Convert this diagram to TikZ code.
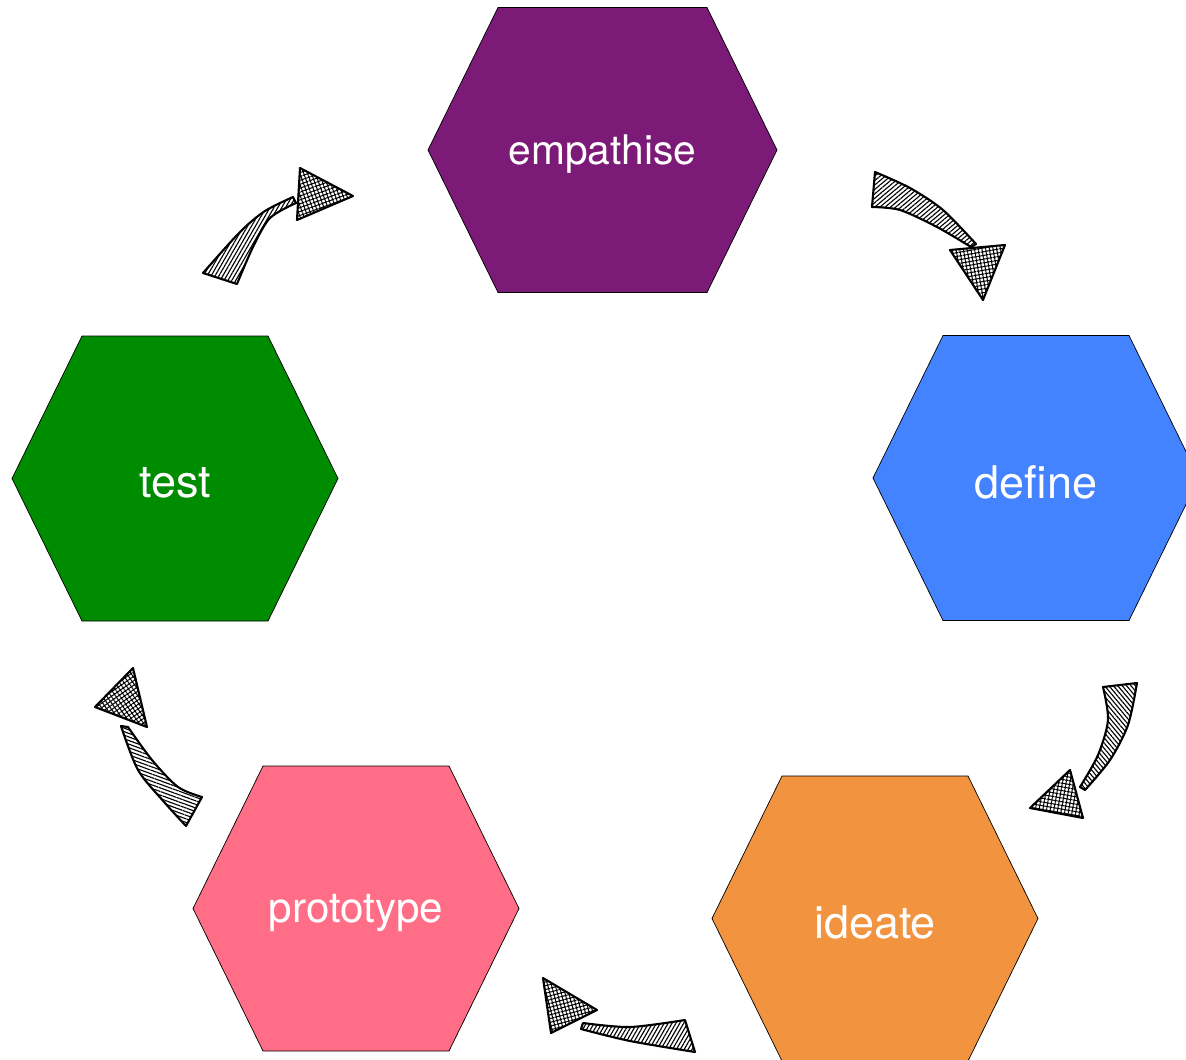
\documentclass[tikz,border=0pt]{standalone}
\usepackage{fontspec}
\setmainfont{TeX Gyre Heros}
\usetikzlibrary{patterns.meta}

\definecolor{empcol}{RGB}{123,26,119}
\definecolor{defcol}{RGB}{68,131,255}
\definecolor{idecol}{RGB}{242,147,64}
\definecolor{procol}{RGB}{255,110,134}
\definecolor{tstcol}{RGB}{0,140,0}

\begin{document}
\begin{tikzpicture}[x=0.025cm, y=-0.025cm,
        hexcell/.style={draw=black, line width=0.5pt},
        celltext/.style={text=white},
        sketchtail/.style={draw=black, line width=1.5pt, line join=round,
            pattern={Lines[angle=#1, distance=2.4pt, line width=0.8pt]}},
        sketchhead/.style={draw=black, line width=1.5pt, line join=round,
            pattern={Hatch[angle=#1, distance=2.6pt, line width=0.7pt]}}]
        \useasboundingbox (0,0) rectangle (1186,1060);
        \foreach \nm/\cx/\cy/\hw/\col/\fs/\txt in {emp/602.5/150/104.5/empcol/29/empathise,
            def/1036/478/93/defcol/32/define, ide/875/918.5/93/idecol/32/ideate,
            pro/356/908.5/93/procol/30/prototype, tst/175/478.5/93/tstcol/32/test} {
            \filldraw[hexcell, fill=\col] (\cx-\hw-70,\cy) -- (\cx-\hw,\cy-142.5) -- (\cx+\hw,\cy-142.5)
                -- (\cx+\hw+70,\cy) -- (\cx+\hw,\cy+142.5) -- (\cx-\hw,\cy+142.5) -- cycle;
            \node[celltext, font=\fontsize{\fs}{\fs}\selectfont] (\nm) at (\cx,\cy+4) {\txt};
        }
        % test -> empathise
        \draw[sketchtail=60] plot[smooth] coordinates {(203,273) (240,232) (265,211) (293,197)}
            -- plot[smooth] coordinates {(296,203) (270,218) (253,247) (237,284)} -- cycle;
        \draw[sketchhead=20] (300,168) -- (353,196) -- (297,220) -- cycle;
        % empathise -> define
        \draw[sketchtail=40] plot[smooth] coordinates {(875,172) (910,188) (943,210) (976,244)}
            -- plot[smooth] coordinates {(971,247) (937,227) (900,210) (872,207)} -- cycle;
        \draw[sketchhead=10] (950,250) -- (1005,245) -- (983,300) -- cycle;
        % define -> ideate
        \draw[sketchtail=130] plot[smooth] coordinates {(1137,683) (1128,725) (1110,760) (1085,790)}
            -- plot[smooth] coordinates {(1080,787) (1098,755) (1108,720) (1103,687)} -- cycle;
        \draw[sketchhead=80] (1070,770) -- (1083,818) -- (1030,808) -- cycle;
        % ideate -> prototype
        \draw[sketchtail=60] plot[smooth] coordinates {(583,1023) (630,1027) (685,1020)}
            -- plot[smooth] coordinates {(695,1052) (630,1041) (581,1029)} -- cycle;
        \draw[sketchhead=15] (543,978) -- (597,1010) -- (551,1033) -- cycle;
        % prototype -> test
        \draw[sketchtail=-20] plot[smooth] coordinates {(121,726) (138,770) (165,803) (186,826)}
            -- plot[smooth] coordinates {(202,797) (178,787) (152,760) (128,727)} -- cycle;
        \draw[sketchhead=35] (133,668) -- (147,727) -- (95,707) -- cycle;
    \end{tikzpicture}
\end{document}
